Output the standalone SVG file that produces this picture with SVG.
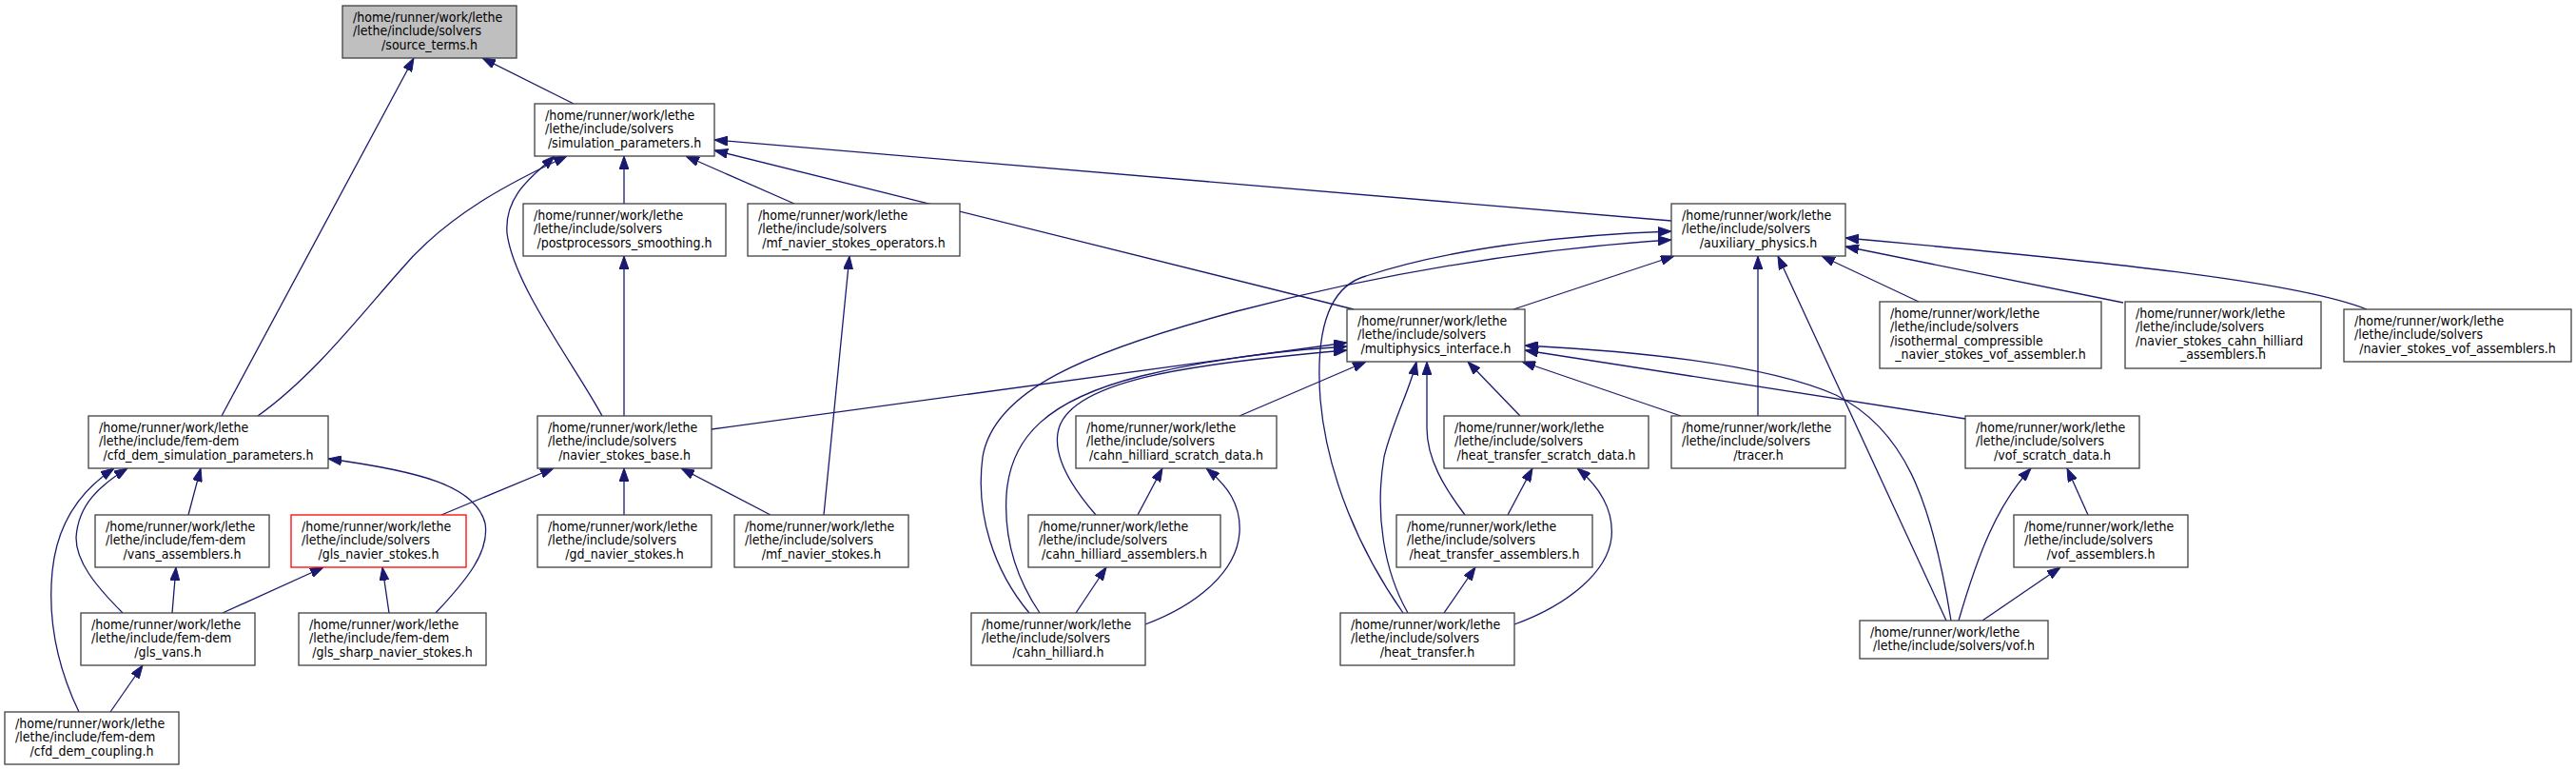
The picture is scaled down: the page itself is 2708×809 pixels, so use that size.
<svg xmlns="http://www.w3.org/2000/svg" width="2708" height="809" viewBox="0 0 2708 809">
<style>
.b{fill:#fff;stroke:#404040;stroke-width:1.3}
.g{fill:#bfbfbf}
.r{stroke:#ff0000}
.t{font-family:'DejaVu Sans Condensed','DejaVu Sans',sans-serif;font-stretch:condensed;font-size:14px;fill:#000}
.c{text-anchor:middle}
.e{fill:none;stroke:#191970;stroke-width:1.3;marker-end:url(#ah)}
</style>
<defs>
<marker id="ah" viewBox="0 0 14 10" refX="14" refY="5" markerWidth="14" markerHeight="10" orient="auto" markerUnits="userSpaceOnUse">
<path d="M0,0 L14,5 L0,10 z" fill="#191970" stroke="#191970" stroke-width="1"/>
</marker>
</defs>
<rect width="2708" height="809" fill="#fff"/>
<g id="connectors">
<path class="e" d="M603,109 L507,61"/>
<path class="e" d="M233,437 L435,61"/>
<path class="e" d="M656,214 L656,164"/>
<path class="e" d="M835,214 L721,164"/>
<path class="e" d="M1757,232 L751,147"/>
<path class="e" d="M1423,325 L751,158"/>
<path class="e" d="M633,437 C605,385 540,300 533,245 C530,205 560,185 583,164"/>
<path class="e" d="M271,437 C330,395 380,330 420,285 C470,225 540,190 596,164"/>
<path class="e" d="M1591,325 L1760,269"/>
<path class="e" d="M2017,317 L1915,269"/>
<path class="e" d="M2232,318 L1940,259"/>
<path class="e" d="M2488,325 C2420,298 2250,278 1940,250"/>
<path class="e" d="M1848,437 L1848,269"/>
<path class="e" d="M2046,652 L1869,269"/>
<path class="e" d="M1082,644 C1045,600 1025,540 1033,480 C1045,410 1140,370 1300,327 C1450,288 1600,262 1757,252"/>
<path class="e" d="M1475,644 C1430,580 1395,500 1388,420 C1382,340 1400,300 1436,290 C1520,262 1640,247 1757,243"/>
<path class="e" d="M656,437 L656,269"/>
<path class="e" d="M866,541 L893,269"/>
<path class="e" d="M748,451 L1416,360"/>
<path class="e" d="M1303,437 L1436,380"/>
<path class="e" d="M1152,541 C1125,510 1108,480 1112,455 C1120,400 1250,382 1416,368"/>
<path class="e" d="M1093,644 C1070,610 1055,570 1058,520 C1062,460 1100,420 1200,395 C1270,378 1350,368 1416,364"/>
<path class="e" d="M1598,437 L1543,380"/>
<path class="e" d="M1540,541 C1518,512 1500,482 1500,450 L1500,380"/>
<path class="e" d="M1480,644 C1455,600 1445,540 1455,480 C1465,440 1482,410 1489,380"/>
<path class="e" d="M1767,437 L1600,380"/>
<path class="e" d="M2066,440 L1603,368"/>
<path class="e" d="M2051,652 C2030,520 2000,450 1930,415 C1850,380 1700,368 1603,363"/>
<path class="e" d="M464,541 L582,492"/>
<path class="e" d="M656,541 L656,492"/>
<path class="e" d="M810,541 L716,492"/>
<path class="e" d="M198,541 L211,492"/>
<path class="e" d="M129,644 C100,615 80,590 80,565 C82,530 105,510 134,492"/>
<path class="e" d="M83,748 C60,700 50,650 55,600 C60,550 85,515 120,492"/>
<path class="e" d="M458,644 C490,610 515,580 510,550 C500,510 440,495 345,482"/>
<path class="e" d="M181,644 L185,596"/>
<path class="e" d="M234,644 L340,596"/>
<path class="e" d="M409,644 L402,596"/>
<path class="e" d="M116,748 L150,699"/>
<path class="e" d="M1196,541 L1222,492"/>
<path class="e" d="M1204,656 C1260,635 1300,600 1303,560 C1305,530 1290,510 1268,492"/>
<path class="e" d="M1131,644 L1163,596"/>
<path class="e" d="M1585,541 L1611,492"/>
<path class="e" d="M1592,656 C1650,635 1690,600 1694,565 C1697,535 1680,510 1658,492"/>
<path class="e" d="M1518,644 L1551,596"/>
<path class="e" d="M2195,541 L2173,492"/>
<path class="e" d="M2059,652 C2080,580 2100,530 2135,492"/>
<path class="e" d="M2084,652 L2166,596"/>
</g>
<g id="n1"><rect class="b g" x="360" y="6" width="183" height="55"/><text class="t" x="371" y="22.5">/home/runner/work/lethe</text><text class="t" x="371" y="37">/lethe/include/solvers</text><text class="t c" x="451.5" y="51.5">/source_terms.h</text></g>
<g id="n2"><rect class="b" x="562" y="109" width="189" height="55"/><text class="t" x="573" y="125.5">/home/runner/work/lethe</text><text class="t" x="573" y="140">/lethe/include/solvers</text><text class="t c" x="656.5" y="154.5">/simulation_parameters.h</text></g>
<g id="n3"><rect class="b" x="550" y="214" width="213" height="55"/><text class="t" x="561" y="230.5">/home/runner/work/lethe</text><text class="t" x="561" y="245">/lethe/include/solvers</text><text class="t c" x="656.5" y="259.5">/postprocessors_smoothing.h</text></g>
<g id="n4"><rect class="b" x="786" y="214" width="223" height="55"/><text class="t" x="797" y="230.5">/home/runner/work/lethe</text><text class="t" x="797" y="245">/lethe/include/solvers</text><text class="t c" x="897.5" y="259.5">/mf_navier_stokes_operators.h</text></g>
<g id="n5"><rect class="b" x="1757" y="214" width="183" height="55"/><text class="t" x="1768" y="230.5">/home/runner/work/lethe</text><text class="t" x="1768" y="245">/lethe/include/solvers</text><text class="t c" x="1848.5" y="259.5">/auxiliary_physics.h</text></g>
<g id="n6"><rect class="b" x="1416" y="325" width="187" height="55"/><text class="t" x="1427" y="341.5">/home/runner/work/lethe</text><text class="t" x="1427" y="356">/lethe/include/solvers</text><text class="t c" x="1509.5" y="370.5">/multiphysics_interface.h</text></g>
<g id="n7"><rect class="b" x="1976" y="317" width="233" height="70"/><text class="t" x="1987" y="333.5">/home/runner/work/lethe</text><text class="t" x="1987" y="348">/lethe/include/solvers</text><text class="t" x="1987" y="362.5">/isothermal_compressible</text><text class="t c" x="2092.5" y="377">_navier_stokes_vof_assembler.h</text></g>
<g id="n8"><rect class="b" x="2234" y="317" width="206" height="70"/><text class="t" x="2245" y="333.5">/home/runner/work/lethe</text><text class="t" x="2245" y="348">/lethe/include/solvers</text><text class="t" x="2245" y="362.5">/navier_stokes_cahn_hilliard</text><text class="t c" x="2337" y="377">_assemblers.h</text></g>
<g id="n9"><rect class="b" x="2464" y="325" width="239" height="55"/><text class="t" x="2475" y="341.5">/home/runner/work/lethe</text><text class="t" x="2475" y="356">/lethe/include/solvers</text><text class="t c" x="2583.5" y="370.5">/navier_stokes_vof_assemblers.h</text></g>
<g id="n10"><rect class="b" x="93" y="437" width="252" height="55"/><text class="t" x="104" y="453.5">/home/runner/work/lethe</text><text class="t" x="104" y="468">/lethe/include/fem-dem</text><text class="t c" x="219" y="482.5">/cfd_dem_simulation_parameters.h</text></g>
<g id="n11"><rect class="b" x="565" y="437" width="183" height="55"/><text class="t" x="576" y="453.5">/home/runner/work/lethe</text><text class="t" x="576" y="468">/lethe/include/solvers</text><text class="t c" x="656.5" y="482.5">/navier_stokes_base.h</text></g>
<g id="n12"><rect class="b" x="1131" y="437" width="211" height="55"/><text class="t" x="1142" y="453.5">/home/runner/work/lethe</text><text class="t" x="1142" y="468">/lethe/include/solvers</text><text class="t c" x="1236.5" y="482.5">/cahn_hilliard_scratch_data.h</text></g>
<g id="n13"><rect class="b" x="1518" y="437" width="215" height="55"/><text class="t" x="1529" y="453.5">/home/runner/work/lethe</text><text class="t" x="1529" y="468">/lethe/include/solvers</text><text class="t c" x="1625.5" y="482.5">/heat_transfer_scratch_data.h</text></g>
<g id="n14"><rect class="b" x="1757" y="437" width="183" height="55"/><text class="t" x="1768" y="453.5">/home/runner/work/lethe</text><text class="t" x="1768" y="468">/lethe/include/solvers</text><text class="t c" x="1848.5" y="482.5">/tracer.h</text></g>
<g id="n15"><rect class="b" x="2066" y="437" width="183" height="55"/><text class="t" x="2077" y="453.5">/home/runner/work/lethe</text><text class="t" x="2077" y="468">/lethe/include/solvers</text><text class="t c" x="2157.5" y="482.5">/vof_scratch_data.h</text></g>
<g id="n16"><rect class="b" x="100" y="541" width="183" height="55"/><text class="t" x="111" y="557.5">/home/runner/work/lethe</text><text class="t" x="111" y="572">/lethe/include/fem-dem</text><text class="t c" x="191.5" y="586.5">/vans_assemblers.h</text></g>
<g id="n17"><rect class="b r" x="306" y="541" width="184" height="55"/><text class="t" x="317" y="557.5">/home/runner/work/lethe</text><text class="t" x="317" y="572">/lethe/include/solvers</text><text class="t c" x="398" y="586.5">/gls_navier_stokes.h</text></g>
<g id="n18"><rect class="b" x="565" y="541" width="183" height="55"/><text class="t" x="576" y="557.5">/home/runner/work/lethe</text><text class="t" x="576" y="572">/lethe/include/solvers</text><text class="t c" x="656.5" y="586.5">/gd_navier_stokes.h</text></g>
<g id="n19"><rect class="b" x="772" y="541" width="183" height="55"/><text class="t" x="783" y="557.5">/home/runner/work/lethe</text><text class="t" x="783" y="572">/lethe/include/solvers</text><text class="t c" x="863.5" y="586.5">/mf_navier_stokes.h</text></g>
<g id="n20"><rect class="b" x="1081" y="541" width="202" height="55"/><text class="t" x="1092" y="557.5">/home/runner/work/lethe</text><text class="t" x="1092" y="572">/lethe/include/solvers</text><text class="t c" x="1182" y="586.5">/cahn_hilliard_assemblers.h</text></g>
<g id="n21"><rect class="b" x="1468" y="541" width="206" height="55"/><text class="t" x="1479" y="557.5">/home/runner/work/lethe</text><text class="t" x="1479" y="572">/lethe/include/solvers</text><text class="t c" x="1571" y="586.5">/heat_transfer_assemblers.h</text></g>
<g id="n22"><rect class="b" x="2117" y="541" width="183" height="55"/><text class="t" x="2128" y="557.5">/home/runner/work/lethe</text><text class="t" x="2128" y="572">/lethe/include/solvers</text><text class="t c" x="2208.5" y="586.5">/vof_assemblers.h</text></g>
<g id="n23"><rect class="b" x="85" y="644" width="183" height="55"/><text class="t" x="96" y="660.5">/home/runner/work/lethe</text><text class="t" x="96" y="675">/lethe/include/fem-dem</text><text class="t c" x="176.5" y="689.5">/gls_vans.h</text></g>
<g id="n24"><rect class="b" x="314" y="644" width="197" height="55"/><text class="t" x="325" y="660.5">/home/runner/work/lethe</text><text class="t" x="325" y="675">/lethe/include/fem-dem</text><text class="t c" x="412.5" y="689.5">/gls_sharp_navier_stokes.h</text></g>
<g id="n25"><rect class="b" x="1021" y="644" width="183" height="55"/><text class="t" x="1032" y="660.5">/home/runner/work/lethe</text><text class="t" x="1032" y="675">/lethe/include/solvers</text><text class="t c" x="1112.5" y="689.5">/cahn_hilliard.h</text></g>
<g id="n26"><rect class="b" x="1409" y="644" width="183" height="55"/><text class="t" x="1420" y="660.5">/home/runner/work/lethe</text><text class="t" x="1420" y="675">/lethe/include/solvers</text><text class="t c" x="1500.5" y="689.5">/heat_transfer.h</text></g>
<g id="n27"><rect class="b" x="1955" y="652" width="198" height="40"/><text class="t" x="1966" y="668.5">/home/runner/work/lethe</text><text class="t c" x="2054" y="683">/lethe/include/solvers/vof.h</text></g>
<g id="n28"><rect class="b" x="5" y="748" width="183" height="55"/><text class="t" x="16" y="764.5">/home/runner/work/lethe</text><text class="t" x="16" y="779">/lethe/include/fem-dem</text><text class="t c" x="96.5" y="793.5">/cfd_dem_coupling.h</text></g>
</svg>
